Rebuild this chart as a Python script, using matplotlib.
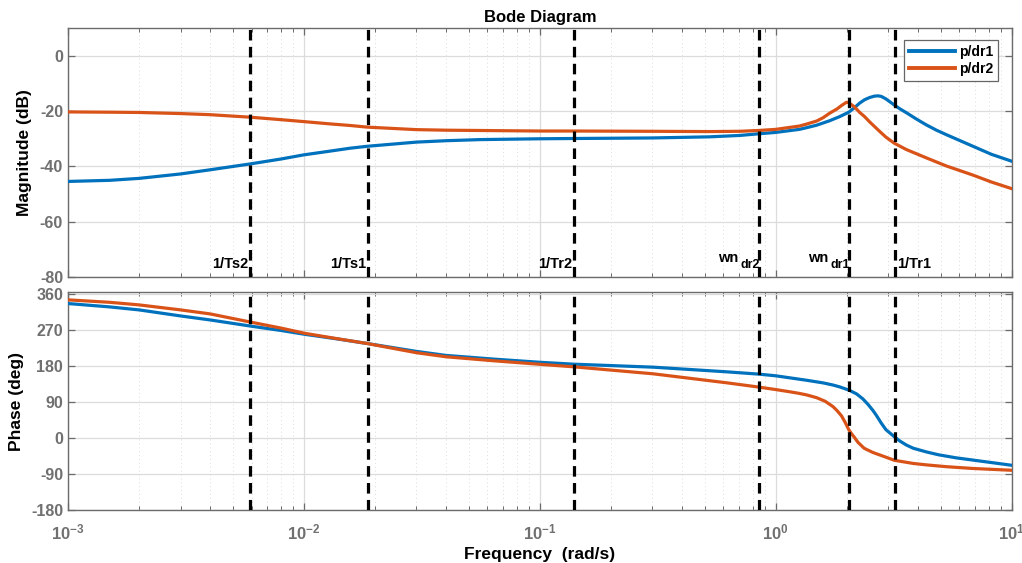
import numpy as np
import matplotlib
matplotlib.use("Agg")
import matplotlib.pyplot as plt
from matplotlib.ticker import LogLocator, NullFormatter, FixedLocator

plt.rcParams['font.family'] = ['Liberation Sans', 'DejaVu Sans']
plt.rcParams['mathtext.fontset'] = 'custom'
plt.rcParams['mathtext.rm'] = 'Liberation Sans:bold'
plt.rcParams['mathtext.bf'] = 'Liberation Sans:bold'
plt.rcParams['mathtext.it'] = 'Liberation Sans:bold'

# ---- magnitude data (rad/s, dB) ----
mag_freq_dr1 = [0.001, 0.0015, 0.002, 0.003, 0.004, 0.0059, 0.008, 0.01, 0.0128, 0.0157,
                0.0186, 0.03, 0.04, 0.0556, 0.1, 0.139, 0.3, 0.523, 0.703, 0.847, 1.0,
                1.26, 1.35, 1.49, 1.69, 1.866, 2.04, 2.16, 2.27, 2.38, 2.5, 2.62, 2.715,
                2.8, 2.93, 3.18, 3.36, 3.58, 3.95, 4.35, 4.8, 5.28, 6.85, 8.2, 10.0]
mag_dr1 = [-45.4, -45.0, -44.3, -42.7, -41.2, -39.1, -37.3, -35.8, -34.5, -33.4,
           -32.7, -31.2, -30.7, -30.3, -30.0, -29.9, -29.7, -29.3, -28.8, -28.2, -27.7,
           -26.6, -26.0, -25.1, -23.5, -22.0, -20.4, -18.7, -17.1, -15.9, -15.1, -14.6, -14.5,
           -14.7, -15.6, -17.8, -19.2, -20.6, -22.9, -25.0, -26.9, -28.5, -32.7, -35.6, -38.1]

mag_freq_dr2 = [0.001, 0.0015, 0.002, 0.003, 0.004, 0.0059, 0.008, 0.01, 0.0128, 0.0157,
                0.0186, 0.03, 0.04, 0.1, 0.139, 0.3, 0.523, 0.703, 0.847, 1.0, 1.26,
                1.35, 1.49, 1.587, 1.69, 1.82, 1.90, 1.97, 2.0, 2.04, 2.15, 2.27, 2.38,
                2.5, 2.77, 2.93, 3.18, 3.58, 4.35, 5.28, 6.85, 8.2, 10.0]
mag_dr2 = [-20.3, -20.4, -20.5, -20.9, -21.3, -22.2, -23.1, -23.8, -24.6, -25.2,
           -25.8, -26.7, -26.9, -27.2, -27.2, -27.3, -27.4, -27.3, -27.0, -26.6, -25.4,
           -24.7, -23.6, -22.4, -20.8, -19.2, -18.0, -17.1, -16.8, -17.0, -18.4, -20.5, -22.0,
           -23.9, -27.5, -29.4, -31.6, -33.9, -36.9, -39.8, -43.1, -45.6, -48.0]

# ---- phase data (rad/s, deg) ----
ph_freq_dr1 = [0.001, 0.0015, 0.002, 0.003, 0.004, 0.0059, 0.008, 0.0101, 0.0140, 0.0184,
               0.03, 0.04, 0.0636, 0.1, 0.139, 0.302, 0.618, 0.847, 1.0, 1.35, 1.587,
               1.75, 1.866, 2.04, 2.2, 2.34, 2.46, 2.58, 2.67, 2.8, 2.93, 3.18, 3.36,
               3.58, 3.83, 4.35, 4.9, 5.83, 6.85, 10.0]
ph_dr1 = [337.4, 329.0, 321.5, 306.4, 296.4, 281.3, 270.0, 260.4, 248.5, 237.8,
          217.7, 207.7, 198.5, 190.5, 185.8, 178.3, 166.7, 160.9, 156.7, 145.6, 139.0,
          133.6, 129.0, 121.0, 111.5, 99.0, 85.3, 70.3, 57.8, 38.5, 22.1, 4.5, -6.5,
          -16.5, -24.5, -33.6, -40.8, -48.5, -54.0, -67.0]

ph_freq_dr2 = [0.001, 0.0015, 0.002, 0.003, 0.004, 0.0059, 0.008, 0.0101, 0.0140, 0.0184,
               0.03, 0.04, 0.0636, 0.1, 0.139, 0.302, 0.618, 0.847, 1.0, 1.14, 1.25, 1.35,
               1.49, 1.62, 1.75, 1.82, 1.90, 1.97, 2.04, 2.10, 2.15, 2.23, 2.37, 2.58, 2.86,
               3.18, 3.83, 4.35, 5.28, 6.85, 10.0]
ph_dr2 = [346.6, 340.5, 334.0, 321.5, 311.5, 291.4, 276.0, 262.9, 249.0, 237.8,
          214.4, 204.3, 194.3, 185.5, 179.2, 161.7, 139.3, 128.5, 122.3, 117.0, 113.0, 109.0,
          102.0, 93.0, 79.5, 69.5, 56.5, 40.0, 22.0, 11.0, 3.5, -9.5, -24.5, -35.0, -44.5,
          -54.5, -62.5, -66.0, -70.5, -75.0, -79.5]

# ---- characteristic frequencies (rad/s) ----
marker_freqs = [0.0059, 0.0187, 0.139, 0.847, 2.04, 3.19]
marker_main = ['1/Ts2', '1/Ts1', '1/Tr2', 'wn', 'wn', '1/Tr1']
marker_sub = ['', '', '', 'dr2', 'dr1', '']
marker_sides = ['left', 'left', 'left', 'left', 'left', 'right']
label_level = -76.7

series_names = ['p/dr1', 'p/dr2']
c1 = '#0072BD'
c2 = '#D95319'
axis_gray = '#6b6b6b'
tick_gray = '#707070'

fig = plt.figure(figsize=(10.22, 5.63), dpi=100)
ax1 = fig.add_axes([0.0665, 0.5075, 0.9234, 0.4428])
ax2 = fig.add_axes([0.0665, 0.0933, 0.9234, 0.3886])

for ax in (ax1, ax2):
    ax.set_xscale('log')
    ax.set_xlim(1e-3, 10)
    ax.xaxis.set_major_locator(LogLocator(base=10, numticks=10))
    ax.xaxis.set_minor_locator(LogLocator(base=10, subs=np.arange(2, 10), numticks=50))
    ax.xaxis.set_minor_formatter(NullFormatter())
    ax.grid(True, which='major', color='#dcdcdc', linewidth=0.9, linestyle='-')
    ax.grid(True, which='minor', axis='x', color='#dcdcdc', linewidth=0.7, linestyle=(0, (1, 3)))
    ax.set_axisbelow(True)
    for sp in ax.spines.values():
        sp.set_color(axis_gray)
        sp.set_linewidth(1.0)
    ax.tick_params(which='both', direction='in', top=True, right=True,
                   colors=axis_gray, labelcolor=tick_gray)
    ax.tick_params(which='major', length=5, width=0.9, labelsize=11.5)
    ax.tick_params(which='minor', length=3, width=0.7)

# magnitude panel
ax1.plot(mag_freq_dr1, mag_dr1, color=c1, lw=2.3, label=series_names[0], zorder=3)
ax1.plot(mag_freq_dr2, mag_dr2, color=c2, lw=2.3, label=series_names[1], zorder=3)
ax1.set_ylim(-80, 10)
mag_ticks = [-80, -60, -40, -20, 0]
ax1.yaxis.set_major_locator(FixedLocator(mag_ticks))
ax1.set_yticklabels([str(t) for t in mag_ticks], fontweight='bold')
ax1.tick_params(axis='x', labelbottom=False)
ax1.set_ylabel('Magnitude (dB)', fontsize=12.5, fontweight='bold', color='black')
ax1.yaxis.set_label_coords(-0.038, 0.5)
ax1.set_title('Bode Diagram', fontsize=12, fontweight='bold', pad=4)

# phase panel
ax2.plot(ph_freq_dr1, ph_dr1, color=c1, lw=2.3, zorder=3)
ax2.plot(ph_freq_dr2, ph_dr2, color=c2, lw=2.3, zorder=3)
ax2.set_ylim(-180, 367)
ph_ticks = [-180, -90, 0, 90, 180, 270, 360]
ax2.yaxis.set_major_locator(FixedLocator(ph_ticks))
ax2.set_yticklabels([str(t) for t in ph_ticks], fontweight='bold')
ax2.set_ylabel('Phase (deg)', fontsize=12.5, fontweight='bold', color='black')
ax2.yaxis.set_label_coords(-0.047, 0.5)
ax2.set_xlabel('Frequency  (rad/s)', fontsize=12.5, fontweight='bold', color='black', labelpad=3)
ax2.set_xticks([1e-3, 1e-2, 1e-1, 1e0, 1e1])
ax2.set_xticklabels([r'$10^{-3}$', r'$10^{-2}$', r'$10^{-1}$', r'$10^{0}$', r'$10^{1}$'],
                    fontsize=12)
ax2.tick_params(axis='x', which='major', pad=9)

# characteristic frequency markers
for f, main, sub, side in zip(marker_freqs, marker_main, marker_sub, marker_sides):
    for ax in (ax1, ax2):
        ax.axvline(f, color='black', lw=2.3, dashes=(3.3, 2.0), zorder=4)
    if sub:
        s = ax1.text(f * 1.012, label_level, sub, ha='right', va='baseline',
                     fontsize=9, fontweight='bold', zorder=5)
        ax1.annotate(main, xy=(0, 1), xycoords=s, xytext=(-1.5, -1.8),
                     textcoords='offset points', ha='right', va='baseline',
                     fontsize=10.5, fontweight='bold', zorder=5)
    elif side == 'left':
        ax1.text(f * 0.985, label_level, main, ha='right', va='baseline',
                 fontsize=10.5, fontweight='bold', zorder=5)
    else:
        ax1.text(f * 1.025, label_level, main, ha='left', va='baseline',
                 fontsize=10.5, fontweight='bold', zorder=5)

leg = ax1.legend(loc='upper right', bbox_to_anchor=(0.9858, 0.952),
                 prop={'weight': 'bold', 'size': 10}, fancybox=False,
                 framealpha=1, edgecolor='#666666', handlelength=3.3,
                 borderpad=0.35, labelspacing=0.25, handletextpad=0.3,
                 borderaxespad=0.0)
leg.get_frame().set_linewidth(0.9)
for line in leg.get_lines():
    line.set_linewidth(2.8)

fig.savefig('out.png', dpi=100)
